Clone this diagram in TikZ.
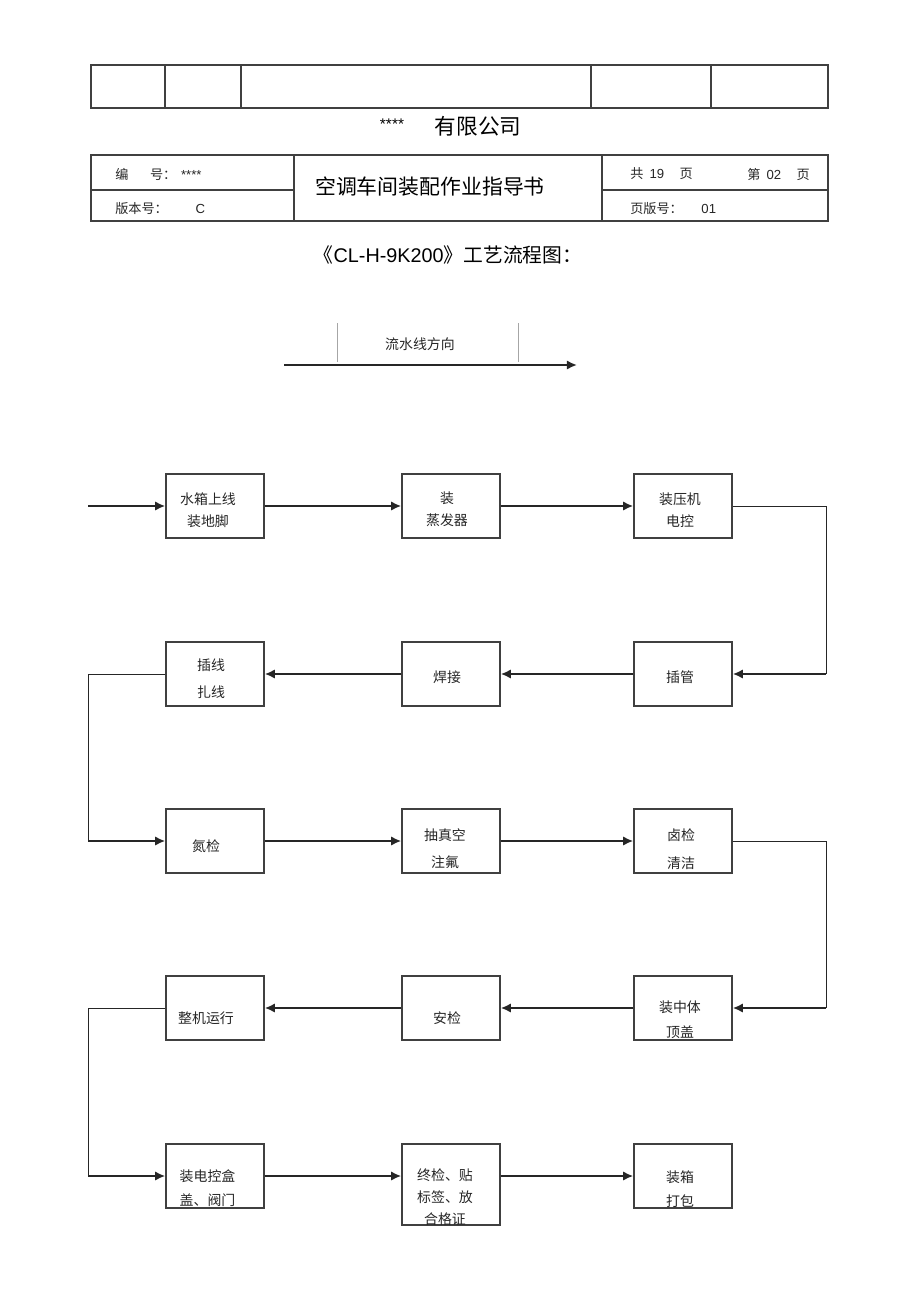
\documentclass[tikz,border=0pt]{standalone}
\usepackage{fontspec}
\setmainfont{Noto Sans CJK SC}
\newfontfamily\arial{Liberation Sans}
\usetikzlibrary{arrows.meta}

\begin{document}
\begin{tikzpicture}[x=0.6467pt,y=-0.6467pt,>={Latex[length=6.5pt,width=6pt]},
  box node/.style={draw=black!75,line width=0.9pt,minimum width=63.4pt,minimum height=41.4pt,inner sep=0pt},
  txt/.style={align=center,inner sep=0pt,text=black!85,font=\fontsize{9}{14.2}\selectfont},
  hd/.style={inner sep=0pt,text=black!85,font=\fontsize{8.5}{10}\selectfont},
  flow/.style={->,line width=1.3pt,black!85},
  link/.style={-,line width=0.6pt,black!85},
  frame/.style={draw=black!75,line width=0.9pt}]

  \useasboundingbox (0,0) rectangle (920,1303);

  % header blocks
  \draw[frame] (91,65) rectangle (828,108);
  \foreach \x in {165,241,591,711}
    \draw[frame] (\x,65) -- (\x,108);

  \node[inner sep=0pt,font=\arial\fontsize{10}{12}\selectfont] (stars) at (392,124) {****};
  \node[inner sep=0pt,font=\fontsize{14}{16}\selectfont] (corp) at (478,126) {有限公司};

  \draw[frame] (91,155) rectangle (828,221);
  \draw[frame] (294,155) -- (294,221) (602,155) -- (602,221)
               (91,190) -- (294,190) (602,190) -- (828,190);

  \node[hd,anchor=west] (code) at (115,174) {编\hspace{14pt}号：\hspace{3pt}{\arial ****}};
  \node[hd,anchor=west] (ver) at (115,209) {版本号：\hspace{18pt}{\arial C}};
  \node[inner sep=0pt,font=\fontsize{13.5}{16}\selectfont] (doc) at (430,187) {空调车间装配作业指导书};
  \node[hd,anchor=west] (total) at (630,174) {共\hspace{4pt}{\arial 19}\hspace{10pt}页};
  \node[hd,anchor=west] (page) at (747,174) {第\hspace{4pt}{\arial 02}\hspace{10pt}页};
  \node[hd,anchor=west] (pver) at (630,209) {页版号：\hspace{12pt}{\arial 01}};

  % title
  \node[inner sep=0pt,font=\fontsize{12.8}{15}\selectfont] (ttl) at (448,255) {《{\arial CL-H-9K200}》工艺流程图：};

  % line direction
  \node[txt] (dir) at (420,344) {流水线方向};
  \draw[black!35,line width=0.5pt] (337,323) -- (337,362) (518,323) -- (518,362);
  \coordinate (d0) at (284,365);
  \coordinate (d1) at (577,365);
  \draw[flow] (d0) -- (d1);

  % boxes
  \foreach \r/\y in {1/506,2/674,3/841,4/1008}
    \foreach \c/\x in {1/215,2/451,3/683}
      \node[box node] (\r\c) at (\x,\y) {};
  \node[box node] (51) at (215,1176) {};
  \node[box node,minimum height=52.4pt] (52) at (451,1184.5) {};
  \node[box node] (53) at (683,1176) {};

  \node[txt] (t11) at (208,510) {水箱上线\\装地脚};
  \node[txt] (t12) at (447,509) {装\\蒸发器};
  \node[txt] (t13) at (680,510) {装压机\\电控};
  \node[txt] (t21) at (211,678.5) {插线\\[3pt]扎线};
  \node[txt] (t22) at (447,677) {焊接};
  \node[txt] (t23) at (680,677) {插管};
  \node[txt] (t31) at (206,846.5) {氮检};
  \node[txt] (t32) at (445,848.5) {抽真空\\[3pt]注氟};
  \node[txt] (t33) at (681,849) {卤检\\[4pt]清洁};
  \node[txt] (t41) at (206,1018) {整机运行};
  \node[txt] (t42) at (447,1018) {安检};
  \node[txt] (t43) at (680,1019.5) {装中体\\[2.2pt]顶盖};
  \node[txt] (t51) at (207.5,1188) {装电控盒\\[1.5pt]盖、阀门};
  \node[txt] (t52) at (445,1197) {终检、贴\\标签、放\\合格证};
  \node[txt] (t53) at (680,1189) {装箱\\[1.5pt]打包};

  % flow
  \coordinate (in) at (88,506);
  \draw[flow] (in) -- (11);
  \draw[flow] (11) -- (12);
  \draw[flow] (12) -- (13);

  \coordinate (e1) at (826,674);
  \draw[link] (13.east) -| (e1);
  \draw[flow] (e1) -- (23);
  \draw[flow] (23) -- (22);
  \draw[flow] (22) -- (21);

  \coordinate (e2) at (88,841);
  \draw[link] (21.west) -| (e2);
  \draw[flow] (e2) -- (31);
  \draw[flow] (31) -- (32);
  \draw[flow] (32) -- (33);

  \coordinate (e3) at (826,1008);
  \draw[link] (33.east) -| (e3);
  \draw[flow] (e3) -- (43);
  \draw[flow] (43) -- (42);
  \draw[flow] (42) -- (41);

  \coordinate (e4) at (88,1176);
  \draw[link] (41.west) -| (e4);
  \draw[flow] (e4) -- (51);
  \draw[flow] (51) -- (51 -| 52.west);
  \draw[flow] (52.east |- 53) -- (53);
\end{tikzpicture}
\end{document}
